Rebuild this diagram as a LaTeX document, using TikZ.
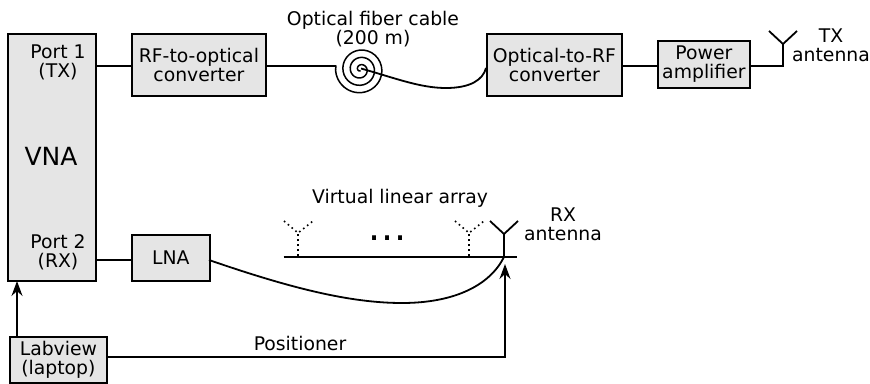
\documentclass[tikz,border=0pt]{standalone}
\usepackage{fontspec}
\setmainfont{DejaVu Sans}
\usetikzlibrary{arrows.meta}
\tikzset{
  x=1pt,y=-1pt,
  boxstyle/.style={draw=black,fill=black!10,line width=1.8pt,inner sep=0pt,anchor=north west,align=center,font=\fontsize{18.8}{19}\selectfont},
  wire/.style={line width=1.8pt},
  coil/.style={line width=1.5pt,line join=round},
  arrowwire/.style={line width=1.8pt,-{Stealth[length=15pt,width=11pt,inset=5pt]}},
  lbl/.style={inner sep=0pt,align=center,font=\fontsize{18.8}{19}\selectfont},
  ant/.style={line width=1.8pt},
  vant/.style={line width=1.6pt,dash pattern=on 1.6pt off 3.4pt},
}
\newcommand{\mybox}[6]{\node[boxstyle,minimum width=#4pt-#2pt,minimum height=#5pt-#3pt] (#1) at (#2,#3) {#6};}
\begin{document}
\begin{tikzpicture}
\useasboundingbox (0,0) rectangle (870,383);
\mybox{vna}{7}{33}{95}{280}{}
\mybox{rfo}{131}{33}{265}{95}{RF-to-optical\\converter}
\mybox{orf}{486}{33}{621}{95}{Optical-to-RF\\converter}
\mybox{pa}{657}{40}{749}{87}{Power\\amplifier}
\mybox{lna}{131}{234}{209}{280}{LNA}
\mybox{lab}{9}{336}{106}{382}{Labview\\(laptop)}
\node[lbl,font=\fontsize{25}{25}\selectfont] (vnat) at (51,156) {VNA};
\node[lbl] (p1) at (58,62.7) {Port 1\\(TX)};
\node[lbl] (p2) at (58,252.7) {Port 2\\(RX)};
\node[lbl] (fib) at (373,29.3) {Optical fiber cable\\(200 m)};
\node[lbl] (vla) at (400,198) {Virtual linear array};
\node[lbl] (txa) at (831,45.7) {TX\\antenna};
\node[lbl] (rxa) at (563,224.7) {RX\\antenna};
\node[lbl] (pos) at (300,343) {Positioner};
\node[inner sep=0pt,anchor=base,font=\fontsize{38}{38}\selectfont] (dots) at (387.5,240) {.\kern.5pt.\kern.5pt.};
% coordinates
\coordinate (p1out) at (95,66);
\coordinate (p1in) at (131,66);
\coordinate (rfout) at (265,66);
\coordinate (fibin) at (336,66);
\coordinate (fibc) at (361,68.5);
\coordinate (fibend) at (486,68);
\coordinate (orfout) at (621,66);
\coordinate (pain) at (657,66);
\coordinate (paout) at (749,66);
\coordinate (txfoot) at (783,66);
\coordinate (txj) at (783,44);
\coordinate (txl) at (769,31);
\coordinate (txr) at (797,31);
\coordinate (p2out) at (95,260);
\coordinate (lnain) at (131,260);
\coordinate (lnaout) at (209,260);
\coordinate (rxfoot) at (504,257);
\coordinate (rxj) at (504,234);
\coordinate (rxl) at (490,221);
\coordinate (rxr) at (518,221);
\coordinate (railL) at (283.5,257);
\coordinate (railR) at (517,257);
% connectors
\draw[wire] (p1out) -- (p1in);
\draw[coil] (rfout) -- (fibin) -- (335.5,70);
\draw[wire] (rfout) -- (fibin);
\draw[wire] (orfout) -- (pain);
\draw[wire] (p2out) -- (lnain);
\draw[wire] (paout) -- (txfoot) -- (txj);
\draw[ant] (txl) -- (txj) -- (txr);
% spiral
\draw[coil] plot[smooth,domain=0:1170,samples=100,variable=\t]
  ({360.5+(1+\t/1170*24)*cos(\t-990)},{69.5+(1+\t/1170*24)*sin(\t-990)});
% fibre
\draw[wire] (fibc) .. controls (395,78) and (420,88) .. (446,88) .. controls (470,88) and (483,80) .. (fibend);
% rx
\draw[wire] (railL) -- (railR);
\draw[ant] (rxfoot) -- (rxj);
\draw[ant] (rxl) -- (rxj) -- (rxr);
\foreach \n/\x in {a/298,b/469}{
  \coordinate (v\n f) at (\x,256);
  \coordinate (v\n j) at (\x,233);
  \coordinate (v\n l) at (\x-14,221);
  \coordinate (v\n r) at (\x+15,221);
  \draw[vant] (v\n f) -- (v\n j);
  \draw[vant] (v\n l) -- (v\n j) -- (v\n r);
}
\draw[wire] (lnaout) .. controls (290,288) and (350,303) .. (402,303) .. controls (455,303) and (490,285) .. (rxfoot);
% control
\coordinate (labout) at (106,357);
\coordinate (poscorner) at (505,357);
\coordinate (posend) at (505,264);
\draw[arrowwire] (labout) -- (poscorner) -- (posend);
\coordinate (labup) at (17,336);
\coordinate (vnain) at (17,281);
\draw[arrowwire] (labup) -- (vnain);
\end{tikzpicture}
\end{document}
